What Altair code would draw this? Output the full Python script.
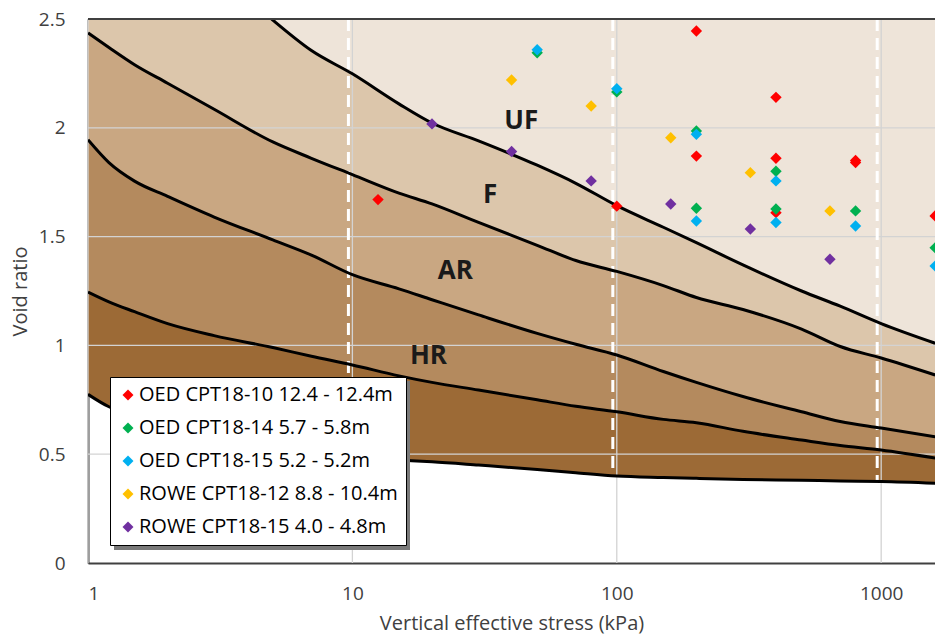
import altair as alt
import pandas as pd

# ---------------- data ----------------
x_grid = [1, 1.2, 1.5, 2, 3, 5, 7, 10, 15, 20, 30, 50, 70, 100, 150, 200, 300, 500, 700, 1000, 1600]
curve_uf_f = [3.4, 3.25, 3.12, 2.97, 2.74, 2.495, 2.355, 2.248, 2.11, 2.022, 1.94, 1.828, 1.745, 1.642, 1.543, 1.472, 1.37, 1.25, 1.18, 1.10, 1.01]
curve_f_ar = [2.436, 2.369, 2.29, 2.205, 2.085, 1.935, 1.86, 1.785, 1.70, 1.65, 1.565, 1.46, 1.39, 1.34, 1.275, 1.22, 1.165, 1.075, 0.995, 0.942, 0.864]
curve_ar_hr = [1.945, 1.84, 1.755, 1.685, 1.59, 1.485, 1.415, 1.325, 1.26, 1.21, 1.14, 1.055, 1.005, 0.956, 0.88, 0.83, 0.765, 0.695, 0.65, 0.62, 0.58]
curve_hr_low = [1.245, 1.20, 1.155, 1.10, 1.045, 0.99, 0.95, 0.91, 0.86, 0.83, 0.795, 0.75, 0.72, 0.695, 0.66, 0.645, 0.605, 0.565, 0.54, 0.519, 0.482]
curve_bottom = [0.775, 0.718, 0.68, 0.63, 0.575, 0.525, 0.50, 0.485, 0.473, 0.465, 0.45, 0.43, 0.415, 0.40, 0.393, 0.389, 0.384, 0.38, 0.377, 0.375, 0.367]

zone_labels = ["UF", "F", "AR", "HR"]
zone_x = [43.5, 33.2, 24.5, 19.4]
zone_y = [2.03, 1.69, 1.34, 0.95]

series_names = [
    "OED CPT18-10 12.4 - 12.4m",
    "OED CPT18-14 5.7 - 5.8m",
    "OED CPT18-15 5.2 - 5.2m",
    "ROWE CPT18-12 8.8 - 10.4m",
    "ROWE CPT18-15 4.0 - 4.8m",
]
series_colors = ["#FF0000", "#00B050", "#00B0F0", "#FFC000", "#7030A0"]

oed10_x = [12.5, 100, 200, 200, 400, 400, 400, 800, 800, 1600]
oed10_y = [1.67, 1.64, 2.445, 1.87, 2.14, 1.86, 1.61, 1.85, 1.84, 1.595]
oed14_x = [50, 100, 200, 200, 400, 400, 800, 1600]
oed14_y = [2.345, 2.165, 1.985, 1.63, 1.80, 1.627, 1.618, 1.449]
oed15_x = [50, 100, 200, 200, 400, 400, 800, 1600]
oed15_y = [2.359, 2.18, 1.97, 1.572, 1.756, 1.565, 1.549, 1.365]
rowe12_x = [40, 80, 160, 320, 640]
rowe12_y = [2.22, 2.10, 1.954, 1.794, 1.618]
rowe15_x = [20, 40, 80, 160, 320, 640]
rowe15_y = [2.018, 1.891, 1.756, 1.65, 1.535, 1.396]

x_ticks = [1, 10, 100, 1000]
y_ticks = [0, 0.5, 1, 1.5, 2, 2.5]
y_grid = [0.5, 1, 1.5, 2]

dash_x = [9.66, 96.6, 966]
dash_top = [2.5, 2.5, 2.5]
dash_bottom = [0.487, 0.401, 0.376]

# ---------------- tables ----------------
curves = pd.DataFrame({
    "x": x_grid, "c1": curve_uf_f, "c2": curve_f_ar, "c3": curve_ar_hr,
    "c4": curve_hr_low, "c5": curve_bottom,
})
curves["top"] = 2.5

pts_list = []
for name, xs, ys in zip(series_names,
                        [oed10_x, oed14_x, oed15_x, rowe12_x, rowe15_x],
                        [oed10_y, oed14_y, oed15_y, rowe12_y, rowe15_y]):
    for xv, yv in zip(xs, ys):
        pts_list.append({"x": xv, "y": yv, "series": name})
pts = pd.DataFrame(pts_list)

zones = pd.DataFrame({"label": zone_labels, "x": zone_x, "y": zone_y})
dashes = pd.DataFrame({"x": dash_x, "top": dash_top, "bot": dash_bottom})
vgrid = pd.DataFrame({"x": x_ticks})
hgrid = pd.DataFrame({"y": y_grid})

X_MAX = 1598
xscale = alt.Scale(type="log", domain=[1, X_MAX], nice=False)
yscale = alt.Scale(domain=[0, 2.5], nice=False, zero=False)

FONT = "Open Sans"

xax = alt.Axis(values=x_ticks, format="d", grid=False, tickSize=0, labelPadding=21,
               labelFontSize=19, labelColor="#404040", domainColor="#404040",
               domainWidth=2, title="Vertical effective stress (kPa)",
               titleFontSize=20, titleFontWeight="normal", titleColor="#404040",
               titlePadding=10, labelFont=FONT, titleFont=FONT)
yax = alt.Axis(values=y_ticks, format="~g", grid=False, tickSize=0, labelPadding=23,
               labelFontSize=19, labelColor="#404040", domainColor="#404040",
               domainWidth=2, title="Void ratio", titleFontSize=20,
               titleFontWeight="normal", titleColor="#404040", titlePadding=8,
               labelFont=FONT, titleFont=FONT)

base = alt.Chart(curves)
X = alt.X("x:Q", scale=xscale, axis=xax)
Y = alt.Y("c1:Q", scale=yscale, axis=yax)

band_uf = base.mark_area(color="#EEE4D9", interpolate="monotone", clip=True).encode(
    x=X, y=Y, y2="top:Q")
band_f = base.mark_area(color="#DCC6AB", interpolate="monotone", clip=True).encode(
    x="x:Q", y="c2:Q", y2="c1:Q")
band_ar = base.mark_area(color="#C9A782", interpolate="monotone", clip=True).encode(
    x="x:Q", y="c3:Q", y2="c2:Q")
band_hr = base.mark_area(color="#B48A5E", interpolate="monotone", clip=True).encode(
    x="x:Q", y="c4:Q", y2="c3:Q")
band_low = base.mark_area(color="#9C6A36", interpolate="monotone", clip=True).encode(
    x="x:Q", y="c5:Q", y2="c4:Q")

vg = alt.Chart(vgrid).mark_rule(color="#D3D3D3", strokeWidth=1.3).encode(x="x:Q")
hg = alt.Chart(hgrid).mark_rule(color="#D3D3D3", strokeWidth=1.3).encode(y="y:Q")

dash = alt.Chart(dashes).mark_rule(color="white", strokeWidth=3, strokeDash=[12, 7]).encode(
    x="x:Q", y="top:Q", y2="bot:Q")

lines = base.transform_fold(["c1", "c2", "c3", "c4", "c5"], as_=["curve", "v"]).mark_line(
    color="black", strokeWidth=3, interpolate="monotone", clip=True).encode(
    x="x:Q", y="v:Q", detail="curve:N")

top_border = alt.Chart(curves).mark_rule(color="#404040", strokeWidth=2).encode(
    y=alt.datum(2.5))

zone_text = alt.Chart(zones).mark_text(font=FONT, fontSize=26, fontWeight="bold",
                                       color="#1A1A1A").encode(
    x="x:Q", y="y:Q", text="label:N")

shadow = alt.Chart(curves).mark_rect(color="#7A7A7A", opacity=0.75).encode(
    x=alt.value(26), x2=alt.value(322), y=alt.value(362), y2=alt.value(531))

points = alt.Chart(pts).mark_point(shape="diamond", filled=True, size=130, opacity=1).encode(
    x="x:Q", y="y:Q",
    color=alt.Color("series:N",
                    scale=alt.Scale(domain=series_names, range=series_colors),
                    sort=series_names,
                    legend=alt.Legend(title=None, orient="none", legendX=22, legendY=358,
                                      fillColor="white", strokeColor="#000000",
                                      padding=8, labelFont=FONT, labelFontSize=20,
                                      labelColor="#000000", symbolType="diamond",
                                      symbolSize=120, symbolStrokeWidth=0,
                                      rowPadding=13, labelOffset=1, labelLimit=400)),
)

chart = alt.layer(
    band_uf, band_f, band_ar, band_hr, band_low, vg, hg, dash, lines, top_border,
    zone_text, shadow, points
).properties(
    width=847, height=544,
    autosize=alt.AutoSizeParams(type="none"),
    padding={"left": 88, "top": 19, "right": 0, "bottom": 74},
).configure_view(stroke=None).configure(font=FONT)

chart.save("out.html", embed_options={"renderer": "svg", "actions": False})
